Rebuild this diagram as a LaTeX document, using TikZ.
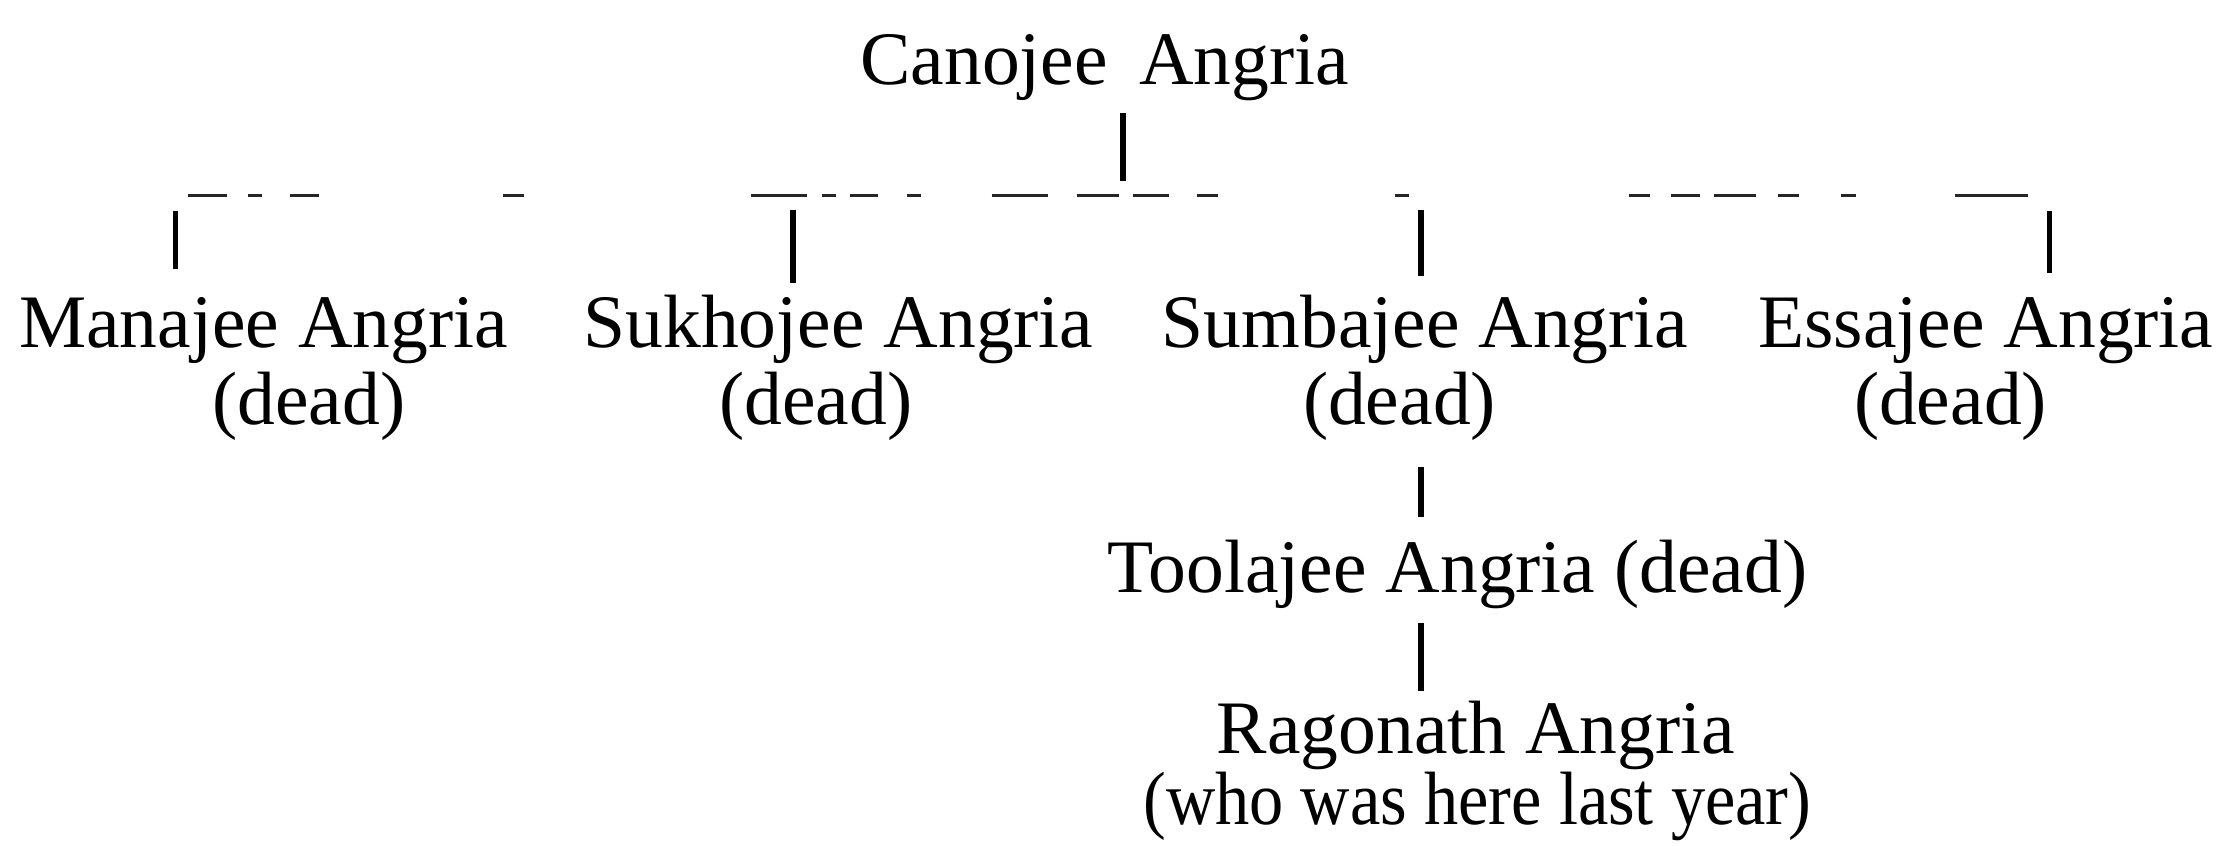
\documentclass[tikz,border=0pt]{standalone}
\usepackage{fontspec}
\setmainfont{Liberation Serif}
\begin{document}
\begin{tikzpicture}[x=0.75pt,y=-0.75pt,
  person/.style={anchor=base,inner sep=0pt,font=\fontsize{40}{44}\selectfont},
  conn/.style={line width=3pt,black},
  bar/.style={line width=1.1pt,black!85,
    dash pattern=on 20.25pt off 11.25pt on 7.5pt off 15pt on 15pt off 97.5pt on 11.25pt off 120pt on 30pt off 7.5pt on 7.5pt off 7.5pt on 15pt off 15pt on 7.5pt off 37.5pt on 30pt off 15pt on 22.5pt off 7.5pt on 18.75pt off 15pt on 11.25pt off 93.75pt on 7.5pt off 116.25pt on 11.25pt off 11.25pt on 15pt off 7.5pt on 22.5pt off 11.25pt on 11.25pt off 22.5pt on 7.5pt off 52.5pt on 39pt off 75pt}]
\fill[white] (0,0) rectangle (1568,597);
\useasboundingbox (0,0) rectangle (1568,597);

% persons
\node[person] (cano) at (780,60) {Canojee\ \,Angria};
\node[person] (man)  at (186,245) {Manajee Angria};
\node[person] (mand) at (218,300) {(dead)};
\node[person] (suk)  at (592,245) {Sukhojee Angria};
\node[person] (sukd) at (576,300) {(dead)};
\node[person] (sum)  at (1006,245) {Sumbajee Angria};
\node[person] (sumd) at (988,300) {(dead)};
\node[person] (ess)  at (1402,245) {Essajee Angria};
\node[person] (essd) at (1377,300) {(dead)};
\node[person] (tool) at (1029,418) {Toolajee Angria (dead)};
\node[person] (rag)  at (1042,532) {Ragonath Angria};
\node[person] (ragd) at (1043,582) {\scalebox{0.905}[1]{(who was here last year)}};

% connector points
\coordinate (c1) at (793,80);  \coordinate (c2) at (793,128);
\coordinate (bl) at (133,138); \coordinate (br) at (1432,138);
\coordinate (m1) at (124,149); \coordinate (m2) at (124,190);
\coordinate (k1) at (560,148); \coordinate (k2) at (560,200);
\coordinate (s1) at (1003,148); \coordinate (s2) at (1003,195);
\coordinate (e1) at (1447,149); \coordinate (e2) at (1447,193);
\coordinate (t1) at (1003,330); \coordinate (t2) at (1003,365);
\coordinate (r1) at (1003,440); \coordinate (r2) at (1003,488);

\draw[conn] (c1) -- (c2);
\draw[bar] (bl) -- (br);
\draw[conn] (m1) -- (m2);
\draw[conn] (k1) -- (k2);
\draw[conn] (s1) -- (s2);
\draw[conn] (e1) -- (e2);
\draw[conn] (t1) -- (t2);
\draw[conn] (r1) -- (r2);
\end{tikzpicture}
\end{document}
